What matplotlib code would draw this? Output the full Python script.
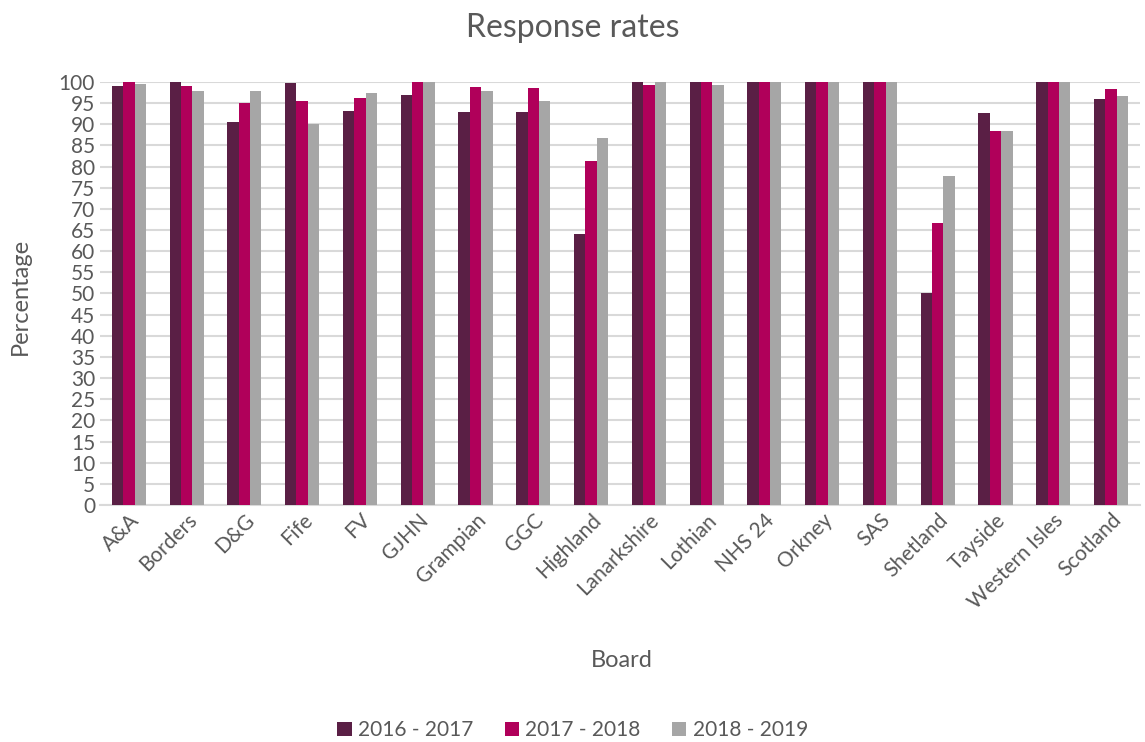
import matplotlib.pyplot as plt
import numpy as np

plt.rcParams['font.family'] = ['Lato', 'DejaVu Sans']

boards = ["A&A", "Borders", "D&G", "Fife", "FV", "GJHN", "Grampian", "GGC", "Highland",
          "Lanarkshire", "Lothian", "NHS 24", "Orkney", "SAS", "Shetland", "Tayside",
          "Western Isles", "Scotland"]
rate_2016_17 = [99.0, 100, 90.5, 99.7, 93.1, 96.9, 92.8, 93.0, 64.0,
                100, 100, 100, 100, 100, 50.0, 92.7, 100, 96.0]
rate_2017_18 = [100, 99.1, 95.0, 95.4, 96.1, 100, 98.7, 98.5, 81.3,
                99.3, 100, 100, 100, 100, 66.7, 88.3, 100, 98.3]
rate_2018_19 = [99.5, 97.8, 97.9, 90.0, 97.3, 100, 97.9, 95.5, 86.7,
                100, 99.4, 100, 100, 100, 77.8, 88.3, 100, 96.8]
series_labels = ["2016 - 2017", "2017 - 2018", "2018 - 2019"]
colors = ["#5A1F45", "#B0005A", "#A6A6A6"]

fig = plt.figure(figsize=(11.45, 7.42), dpi=100)
ax = fig.add_axes([0.0873, 0.3194, 0.9083, 0.5701])

x = np.arange(len(boards))
w = 0.197
for i, (vals, lab, c) in enumerate(zip([rate_2016_17, rate_2017_18, rate_2018_19], series_labels, colors)):
    ax.bar(x + (i - 1) * w, vals, width=w, color=c, label=lab, zorder=3)

ax.set_xlim(-0.5, len(boards) - 0.5)
ax.set_ylim(0, 100)
ax.set_yticks(np.arange(0, 101, 5))
ax.grid(axis='y', color='#D9D9D9', linewidth=1.5, zorder=0)
ax.set_axisbelow(True)
for s in ['top', 'right', 'left']:
    ax.spines[s].set_visible(False)
ax.spines['bottom'].set_color('#D9D9D9')
ax.spines['bottom'].set_linewidth(1.5)
ax.tick_params(length=0, colors='#595959', labelsize=15)
ax.set_xticks(x)
ax.set_xticklabels(boards, rotation=45, ha='right', rotation_mode='anchor')

fig.text(0.5, 0.962, "Response rates", fontsize=23, color='#595959', ha='center', va='center')
fig.text(0.018, 0.6, "Percentage", fontsize=17, color='#595959', rotation=90, ha='center', va='center')
fig.text(0.543, 0.11, "Board", fontsize=17, color='#595959', ha='center', va='center')

fig.legend(loc='center', bbox_to_anchor=(0.5, 0.016), ncol=3, frameon=False,
           fontsize=15, labelcolor='#595959', handlelength=0.7, handleheight=0.7,
           columnspacing=1.5, handletextpad=0.3)

fig.savefig("out.png", dpi=100)
